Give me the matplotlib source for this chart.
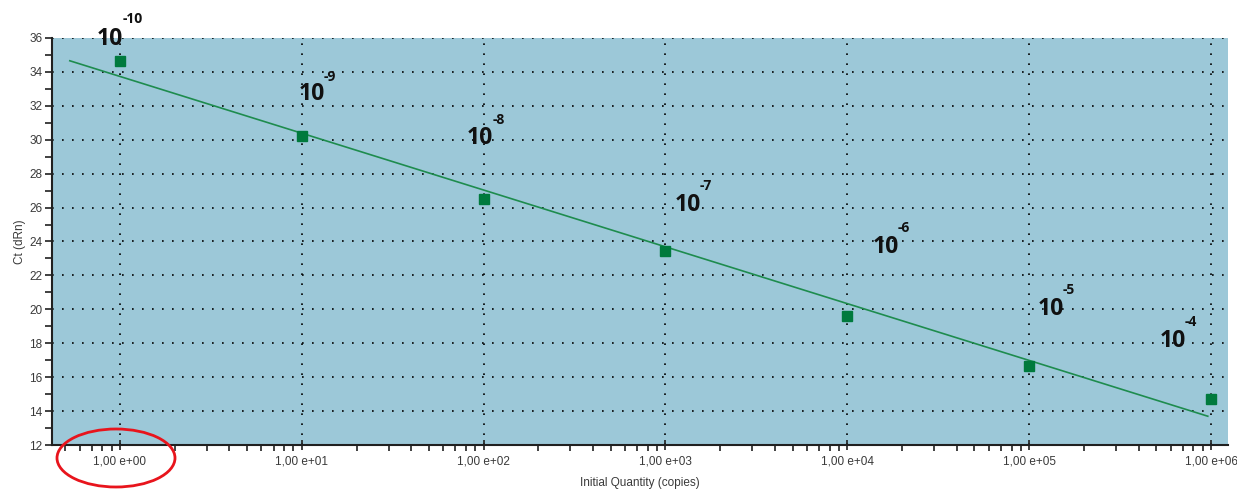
import numpy as np
import matplotlib
matplotlib.use("Agg")
import matplotlib.pyplot as plt
from matplotlib.patches import Ellipse
from matplotlib.ticker import FuncFormatter, LogLocator, MultipleLocator, NullFormatter

# standard curve: initial quantity vs Ct
quantity = [1e0, 1e1, 1e2, 1e3, 1e4, 1e5, 1e6]
ct = [34.64, 30.22, 26.51, 23.44, 19.61, 16.66, 14.72]
dilution = ["-10", "-9", "-8", "-7", "-6", "-5", "-4"]

# dilution labels, pixel positions of the "10" and its exponent
label_pos = [(110, 39), (312, 94), (480, 138), (688, 205), (886, 247), (1051, 309), (1173, 341)]
exp_pos = [(133, 19), (330, 77), (499, 120), (706, 186), (904, 228), (1069, 290), (1191, 322)]

W, H = 1237, 490
fig = plt.figure(figsize=(W / 100, H / 100), dpi=100)
ax = fig.add_axes([52 / W, 1 - 445 / H, 1176 / W, 407 / H])
ax.set_facecolor("#9cc8d8")

ax.set_xscale("log")
ax.set_xlim(0.423, 1.24e6)
ax.set_ylim(12, 36)

# regression line over log10 quantity
slope, icept = np.polyfit(np.log10(quantity), ct, 1)
fx = np.logspace(np.log10(0.53), np.log10(9.6e5), 50)
ax.plot(fx, slope * np.log10(fx) + icept, color="#1e8c4e", lw=1.2, zorder=3)
ax.plot(quantity, ct, "s", color="#007a3d", ms=7, zorder=4)

ax.yaxis.set_major_locator(MultipleLocator(2))
ax.yaxis.set_minor_locator(MultipleLocator(1))
ax.set_xticks(quantity)
ax.xaxis.set_minor_locator(LogLocator(base=10, subs=np.arange(2, 10), numticks=20))
ax.xaxis.set_major_formatter(FuncFormatter(lambda v, p: "1,00 e+%02d" % round(np.log10(v))))
ax.xaxis.set_minor_formatter(NullFormatter())

ax.grid(True, which="major", color="black", linestyle=(0, (1, 5)), lw=1.2)
for s in ["top", "right"]:
    ax.spines[s].set_visible(False)
for s in ["left", "bottom"]:
    ax.spines[s].set_linewidth(1.5)
    ax.spines[s].set_color("#202020")

ax.tick_params(which="major", direction="inout", length=7, width=1.2, color="#202020")
ax.tick_params(which="minor", direction="out", length=4, width=1.2, color="#202020")
ax.tick_params(axis="y", which="both", direction="out", length=5, pad=2)
ax.tick_params(axis="x", pad=4)
for lab in ax.get_xticklabels() + ax.get_yticklabels():
    lab.set_fontfamily("Liberation Sans")
    lab.set_fontsize(8.5)
    lab.set_color("#3a3a3a")

ax.set_xlabel("Initial Quantity (copies)", fontfamily="Liberation Sans", fontsize=8.5,
              color="#3a3a3a", va="center")
ax.set_ylabel("Ct (dRn)", fontfamily="Liberation Sans", fontsize=8.5,
              color="#3a3a3a", va="center")
ax.xaxis.set_label_coords(0.5, -(483 - 445) / 407)
ax.yaxis.set_label_coords((20 - 52) / 1176, 0.5)

for d, (lx, ly), (ex, ey) in zip(dilution, label_pos, exp_pos):
    fig.text(lx / W, 1 - ly / H, "10", family="Open Sans", weight="bold", fontsize=16.5,
             ha="center", va="center", color="#111111")
    fig.text(ex / W, 1 - ey / H, d, family="Open Sans", weight="bold", fontsize=10,
             ha="center", va="center", color="#111111")

fig.add_artist(Ellipse((116 / W, 1 - 458 / H), 118 / W, 58 / H, transform=fig.transFigure,
                       fill=False, edgecolor="#e8141c", lw=2))

fig.savefig("out.png", dpi=100)
